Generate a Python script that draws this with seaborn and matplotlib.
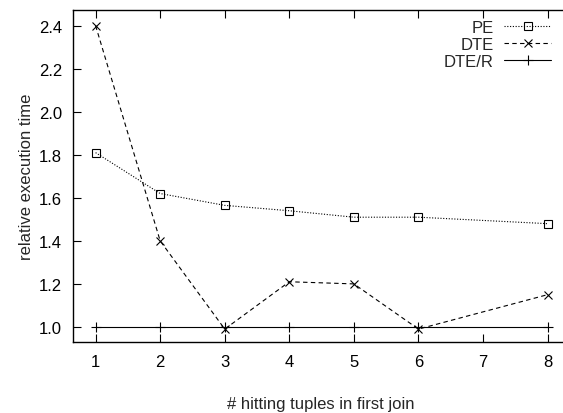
import matplotlib
matplotlib.use("Agg")
import matplotlib.pyplot as plt
import seaborn as sns
import pandas as pd

x_vals = [1, 2, 3, 4, 5, 6, 8]
pe = [1.81, 1.62, 1.565, 1.54, 1.51, 1.51, 1.48]
dte = [2.40, 1.40, 0.99, 1.21, 1.20, 0.99, 1.15]
dte_r = [1.0, 1.0, 1.0, 1.0, 1.0, 1.0, 1.0]
series_names = ["PE", "DTE", "DTE/R"]
x_ticks = [1, 2, 3, 4, 5, 6, 7, 8]
y_ticks = [1.0, 1.2, 1.4, 1.6, 1.8, 2.0, 2.2, 2.4]

sns.set_style("ticks")
plt.rcParams['font.family'] = ['Liberation Sans', 'DejaVu Sans']

fig = plt.figure(figsize=(5.63, 4.14), dpi=100)
ax = fig.add_axes([73/563, 1 - 343/414, 495/563, 332/414])

styles = {
    "PE": dict(linestyle=(0, (1, 1.5)), marker="s", markersize=5.5, markerfacecolor="none", linewidth=0.8),
    "DTE": dict(linestyle=(0, (4, 3)), marker="x", markersize=6, linewidth=0.8),
    "DTE/R": dict(linestyle="-", marker="+", markersize=7, linewidth=0.8),
}
for name, vals in zip(series_names, [pe, dte, dte_r]):
    df = pd.DataFrame({"x": x_vals, "y": vals})
    sns.lineplot(data=df, x="x", y="y", ax=ax, color="black", label=name,
                 markeredgecolor="black", markeredgewidth=0.8, **styles[name])

ax.set_xlim(0.65, 8.316)
ax.set_ylim(0.93, 2.473)
ax.set_xticks(x_ticks)
ax.set_yticks(y_ticks)
ax.set_yticklabels([f"{v:.1f}" for v in y_ticks])
ax.tick_params(direction="in", length=6, width=0.8, top=True, right=False, labelsize=12, colors="black")
ax.tick_params(axis="x", pad=9)
ax.tick_params(axis="y", pad=8)
ax.spines["right"].set_visible(False)
for s in ax.spines.values():
    s.set_linewidth(1.0)
    s.set_color("black")
ax.set_xlabel("# hitting tuples in first join", fontsize=12, labelpad=19)
ax.set_ylabel("relative execution time", fontsize=12, labelpad=3)

leg = ax.legend(loc="upper right", frameon=False, markerfirst=False, fontsize=12,
                handlelength=2.8, labelspacing=0.12, borderaxespad=0, borderpad=0,
                handletextpad=0.65, bbox_to_anchor=(551/563, 1 - 21/414),
                bbox_transform=fig.transFigure)

fig.savefig("out.png", dpi=100)
